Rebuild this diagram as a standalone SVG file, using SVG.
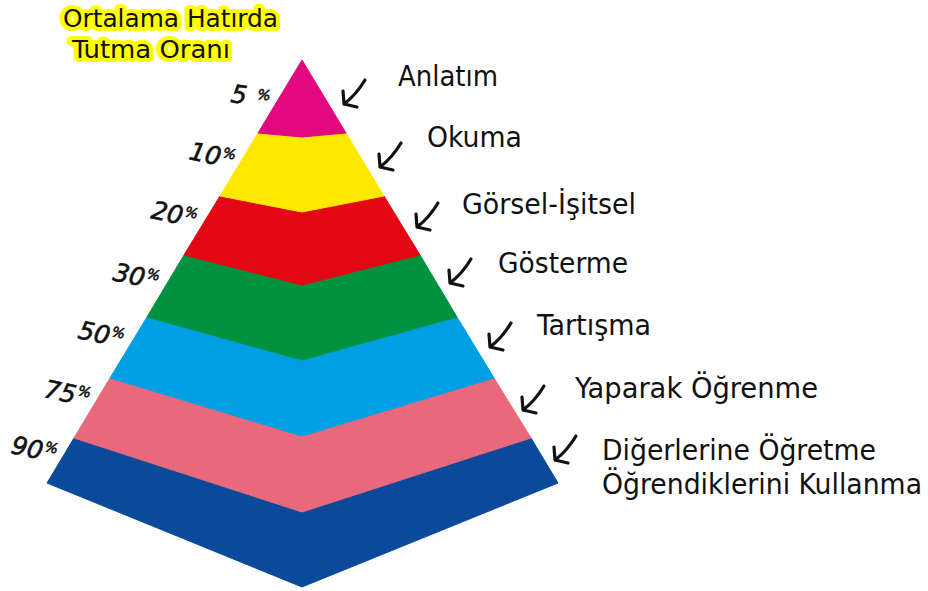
<svg xmlns="http://www.w3.org/2000/svg" xmlns:xlink="http://www.w3.org/1999/xlink" width="928" height="591" viewBox="0 0 928 591">
<style>
.lbl{font-family:"DejaVu Sans Condensed","DejaVu Sans","Liberation Sans",sans-serif;font-stretch:condensed;font-size:29px;fill:#111}
.ttl{font-family:"DejaVu Sans Condensed","DejaVu Sans","Liberation Sans",sans-serif;font-stretch:condensed;font-size:24px;fill:#111;stroke:#FFFF00;stroke-width:8;stroke-linejoin:round;paint-order:stroke}
.pct{font-family:"DejaVu Sans","Liberation Sans",sans-serif;font-style:italic;font-size:25px;fill:#111;stroke:#111;stroke-width:0.6}
.ps{font-size:14px}
.arr{fill:none;stroke:#111;stroke-width:3.2;stroke-linecap:round;stroke-linejoin:round}
.band{stroke-width:1;stroke-linejoin:miter}
</style>
<defs>
<path id="arrow" d="M21,-24 Q12,-9 0,0 M-1,-13 L0,0 L13,3"/>
</defs>
<rect width="928" height="591" fill="#fff"/>

<g id="title">
<text class="ttl" x="63" y="27" textLength="215" lengthAdjust="spacingAndGlyphs">Ortalama Hatırda</text>
<text class="ttl" x="72" y="58" textLength="158" lengthAdjust="spacingAndGlyphs">Tutma Oranı</text>
</g>

<g id="pyramid">
<polygon id="band-90" class="band" fill="#0B4A9B" stroke="#0B4A9B" points="74,438 302,512 531,438 558,483 302,587 47,483"/>
<polygon id="band-75" class="band" fill="#E9687B" stroke="#E9687B" points="110,378 302,436 494,378 531,438 302,512 74,438"/>
<polygon id="band-50" class="band" fill="#009FE3" stroke="#009FE3" points="147,317 302,360 457,317 494,378 302,436 110,378"/>
<polygon id="band-30" class="band" fill="#00923F" stroke="#00923F" points="184,255 302,285 420,255 457,317 302,360 147,317"/>
<polygon id="band-20" class="band" fill="#E30613" stroke="#E30613" points="220,196 302,212 384,196 420,255 302,285 184,255"/>
<polygon id="band-10" class="band" fill="#FFE800" stroke="#FFE800" points="258,133 302,137 346,133 384,196 302,212 220,196"/>
<polygon id="band-5" class="band" fill="#E2087F" stroke="#E2087F" points="302,60 346,133 302,137 258,133"/>
</g>

<g id="percentages">
<text class="pct" font-size="19" transform="translate(230,102) rotate(8)">5<tspan class="ps" font-size="12" dx="10" dy="-7">%</tspan></text>
<text class="pct" transform="translate(188,159) rotate(12)">10<tspan class="ps" dx="1" dy="-9">%</tspan></text>
<text class="pct" transform="translate(150,218) rotate(12)">20<tspan class="ps" dx="1" dy="-9">%</tspan></text>
<text class="pct" transform="translate(112,280) rotate(12)">30<tspan class="ps" dx="1" dy="-9">%</tspan></text>
<text class="pct" transform="translate(77,338) rotate(12)">50<tspan class="ps" dx="1" dy="-9">%</tspan></text>
<text class="pct" transform="translate(43,397) rotate(12)">75<tspan class="ps" dx="1" dy="-9">%</tspan></text>
<text class="pct" transform="translate(10,453) rotate(12)">90<tspan class="ps" dx="1" dy="-9">%</tspan></text>
</g>

<g id="connectors" class="arr">
<use href="#arrow" x="344" y="104"/>
<use href="#arrow" x="380" y="167"/>
<use href="#arrow" x="417" y="227"/>
<use href="#arrow" x="450" y="283"/>
<use href="#arrow" x="490" y="347"/>
<use href="#arrow" x="523" y="410"/>
<use href="#arrow" x="555" y="460"/>
</g>

<g id="node-anlatim"><text class="lbl" x="398" y="86" textLength="100" lengthAdjust="spacingAndGlyphs">Anlatım</text></g>
<g id="node-okuma"><text class="lbl" x="427" y="147" textLength="95" lengthAdjust="spacingAndGlyphs">Okuma</text></g>
<g id="node-gorsel"><text class="lbl" x="462" y="214" textLength="174" lengthAdjust="spacingAndGlyphs">Görsel-İşitsel</text></g>
<g id="node-gosterme"><text class="lbl" x="498" y="273" textLength="130" lengthAdjust="spacingAndGlyphs">Gösterme</text></g>
<g id="node-tartisma"><text class="lbl" x="537" y="335" textLength="114" lengthAdjust="spacingAndGlyphs">Tartışma</text></g>
<g id="node-yaparak"><text class="lbl" x="575" y="398" textLength="243" lengthAdjust="spacingAndGlyphs">Yaparak Öğrenme</text></g>
<g id="node-diger">
<text class="lbl" x="602" y="460" textLength="274" lengthAdjust="spacingAndGlyphs">Diğerlerine Öğretme</text>
<text class="lbl" x="602" y="494" textLength="320" lengthAdjust="spacingAndGlyphs">Öğrendiklerini Kullanma</text>
</g>
</svg>
